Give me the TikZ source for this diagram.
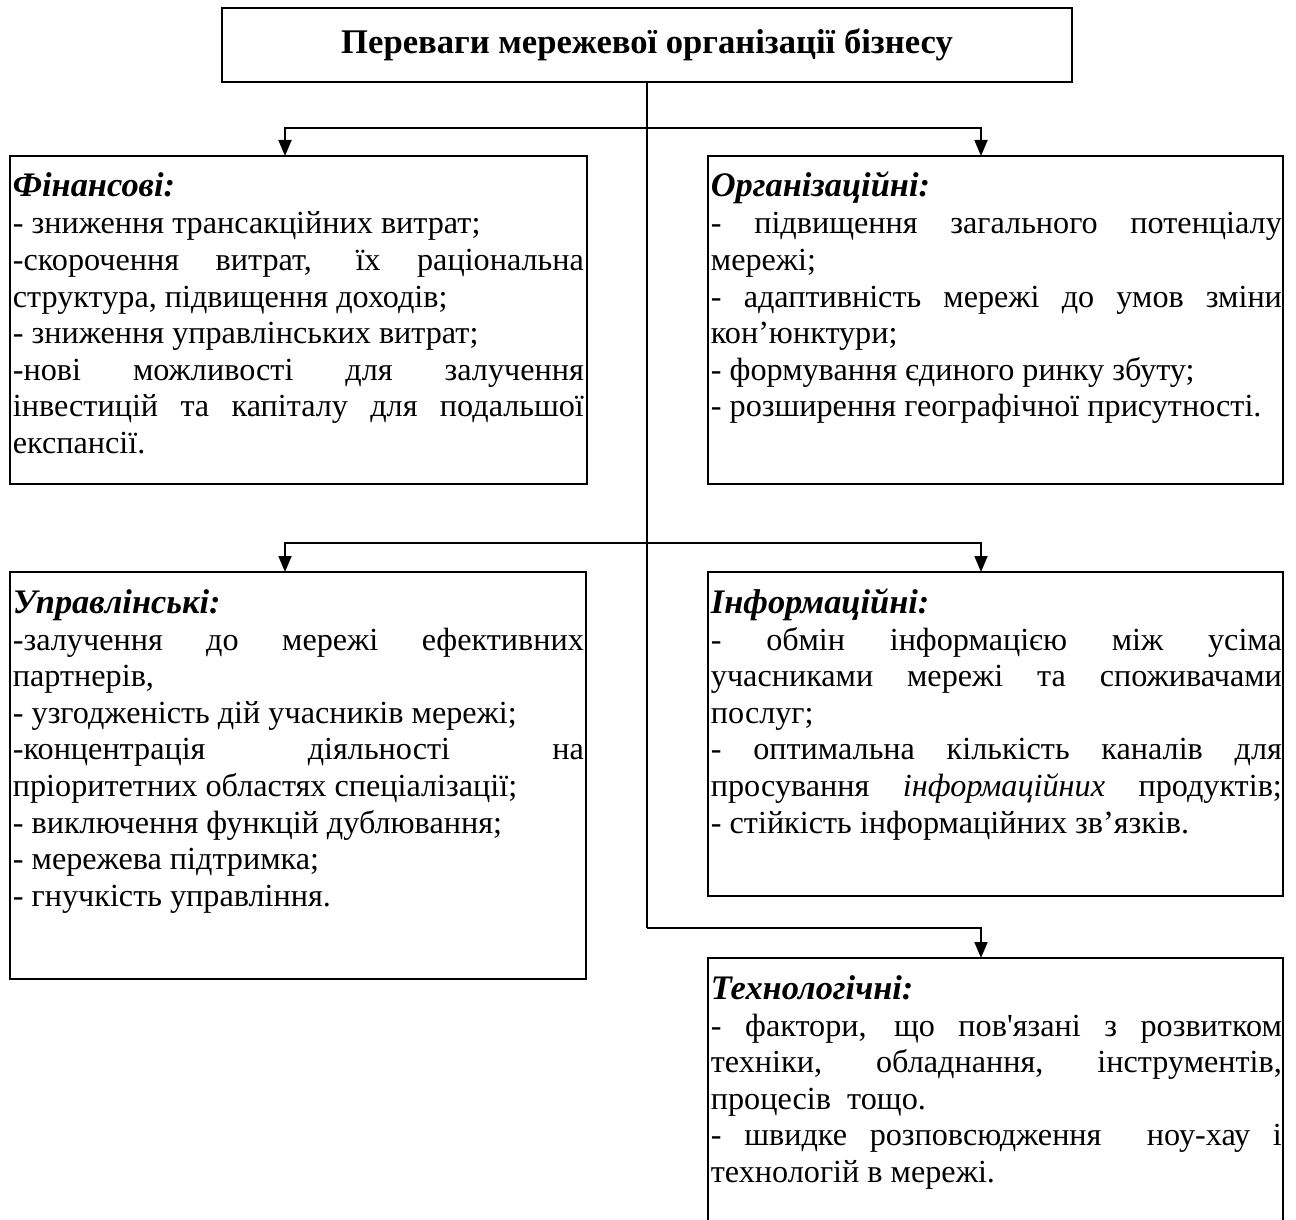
\documentclass[tikz,border=0pt]{standalone}
\usepackage{fontspec}
\setmainfont{Liberation Serif}
\newfontfamily\nomap{Liberation Serif}
\usetikzlibrary{arrows.meta}
\newlength\tw
\setlength\tw{285.5pt}
\newcommand\rs{\spaceskip=0pt\xspaceskip=0pt\relax}
\newcommand\jl[1]{{\rs\makebox[\tw][s]{#1}}}
\begin{document}
\begin{tikzpicture}[x=0.5pt, y=-0.5pt, line width=0.9pt,
  frame/.style={draw, line width=0.9pt, inner sep=0pt, outer sep=0pt, anchor=north west},
  hd/.style={anchor=base west, inner sep=0pt, font=\fontsize{17.2pt}{18.3pt}\selectfont\bfseries\itshape},
  bd/.style={anchor=base west, inner sep=0pt, text width=285.5pt, align=left, font=\fontsize{16.1pt}{18.3pt}\selectfont},
  arr/.style={-{Triangle[length=8pt,width=6.5pt]}}]
\useasboundingbox (0,0) rectangle (1296,1220);
% boxes
\node[frame, minimum width=425pt, minimum height=37pt, font=\fontsize{17.3pt}{18.3pt}\selectfont\bfseries] (title) at (222,8) {Переваги мережевої організації бізнесу};
\node[frame, minimum width=288.5pt, minimum height=164pt] (fin) at (10,156) {};
\node[frame, minimum width=287.5pt, minimum height=164pt] (org) at (708,156) {};
\node[frame, minimum width=288pt, minimum height=203.5pt] (upr) at (10,572) {};
\node[frame, minimum width=287.5pt, minimum height=162pt] (inf) at (708,572) {};
\node[inner sep=0pt, outer sep=0pt, anchor=north west, minimum width=287.5pt, minimum height=132pt] (tech) at (708,958) {};
\draw (tech.south west) -- (tech.north west) -- (tech.north east) -- (tech.south east);
% connectors
\coordinate (j1) at (title.south |- 0,128);
\coordinate (j2) at (title.south |- 0,543);
\coordinate (j3) at (title.south |- 0,928);
\draw (title.south) -- (j3);
\draw[arr] (j1) -| ([xshift=137.5pt]fin.north west);
\draw[arr] (j1) -| ([xshift=136.5pt]org.north west);
\draw[arr] (j2) -| ([xshift=137.5pt]upr.north west);
\draw[arr] (j2) -| ([xshift=136.5pt]inf.north west);
\draw[arr] (j3) -| ([xshift=136.5pt]tech.north west);
% texts
\node[hd] (finH) at (12,197) {Фінансові:};
\node[bd] (finT) at (12,234) {\rs- зниження трансакційних витрат;\\
\jl{-скорочення витрат, їх раціональна}\\
структура, підвищення доходів;\\
- зниження управлінських витрат;\\
\jl{-нові можливості для залучення}\\
\jl{інвестицій та капіталу для подальшої}\\
експансії.};
\node[hd] (orgH) at (710,197) {Організаційні:};
\node[bd] (orgT) at (710,234) {\rs\jl{- підвищення загального потенціалу}\\
мережі;\\
\jl{- адаптивність мережі до умов зміни}\\
кон’юнктури;\\
- формування єдиного ринку збуту;\\
- розширення географічної присутності.};
\node[hd] (uprH) at (12,613) {Управлінські:};
\node[bd] (uprT) at (12,650) {\rs\jl{-залучення до мережі ефективних}\\
партнерів,\\
- узгодженість дій учасників мережі;\\
\jl{-концентрація діяльності на}\\
пріоритетних областях спеціалізації;\\
- виключення функцій дублювання;\\
- мережева підтримка;\\
- гнучкість управління.};
\node[hd] (infH) at (710,613) {Інформаційні:};
\node[bd] (infT) at (710,650) {\rs\jl{- обмін інформацією між усіма}\\
\jl{учасниками мережі та споживачами}\\
послуг;\\
\jl{- оптимальна кількість каналів для}\\
\jl{просування \textit{інформаційних} продуктів;}\\
- стійкість інформаційних зв’язків.};
\node[hd] (techH) at (710,999) {Технологічні:};
\node[bd] (techT) at (710,1036) {\rs\jl{- фактори, що пов{\nomap'}язані з розвитком}\\
\jl{техніки, обладнання, інструментів,}\\
процесів\ \ тощо.\\
\jl{- швидке розповсюдження\ \ ноу-хау і}\\
технологій в мережі.};
\end{tikzpicture}
\end{document}
